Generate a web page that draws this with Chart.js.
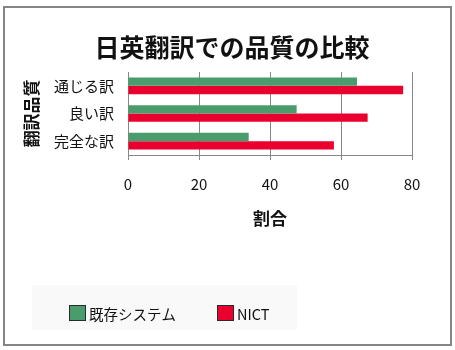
<!DOCTYPE html>
<html>
<head>
<meta charset="utf-8">
<script src="https://cdn.jsdelivr.net/npm/chart.js@4/dist/chart.umd.min.js"></script>
<style>
  html, body { margin: 0; padding: 0; background: #ffffff; }
  body { width: 455px; height: 350px; position: relative; overflow: hidden; }
  #frame {
    position: absolute; left: 3px; top: 6px; width: 449px; height: 340px;
    box-sizing: border-box; border: 2px solid #858585; background: #ffffff;
  }
  #wrap { position: absolute; left: 21px; top: 0; width: 430px; height: 350px; }
</style>
</head>
<body>
<div id="frame"></div>
<div id="wrap"><canvas id="c" width="430" height="350"></canvas></div>
<script>
// Translation quality categories (top to bottom)
const categories = ['通じる訳', '良い訳', '完全な訳'];
// Series names
const seriesNames = ['既存システム', 'NICT'];
// Percentage values per series
const existingSystem = [64.5, 47.5, 34];
const nict = [77.5, 67.5, 58];
// X axis tick range
const xTicks = [0, 20, 40, 60, 80];

const GREEN = '#4b9c6c';
const RED = '#ea002e';
const FONT = "'Noto Sans CJK JP', 'Noto Sans', sans-serif";

// Legend drawn in its own shaded panel under the plot
const panelLegend = {
  id: 'panelLegend',
  afterDraw(chart) {
    const ctx = chart.ctx;
    ctx.save();
    ctx.fillStyle = '#f9f9f9';
    ctx.fillRect(11, 285, 265, 45);
    const xs = [48, 196];
    chart.data.datasets.forEach((ds, i) => {
      const x = xs[i];
      ctx.fillStyle = ds.backgroundColor;
      ctx.fillRect(x, 305, 17, 16);
      ctx.strokeStyle = '#2a2a2a';
      ctx.lineWidth = 1;
      ctx.strokeRect(x + 0.5, 305.5, 16, 15);
      ctx.fillStyle = '#111111';
      ctx.font = '14.5px ' + FONT;
      ctx.textBaseline = 'middle';
      ctx.textAlign = 'left';
      ctx.fillText(ds.label, x + 20, 314);
    });
    ctx.restore();
  }
};

new Chart(document.getElementById('c'), {
  type: 'bar',
  data: {
    labels: categories,
    datasets: [
      { label: seriesNames[0], data: existingSystem, backgroundColor: GREEN,
        categoryPercentage: 0.6, barPercentage: 1.0 },
      { label: seriesNames[1], data: nict, backgroundColor: RED,
        categoryPercentage: 0.6, barPercentage: 1.0 }
    ]
  },
  options: {
    indexAxis: 'y',
    responsive: false,
    animation: false,
    layout: { padding: { left: 31, right: 39, top: 0, bottom: 121.6 } },
    plugins: {
      legend: { display: false },
      tooltip: { enabled: false },
      title: {
        display: true,
        text: '日英翻訳での品質の比較',
        color: '#111111',
        font: { family: FONT, size: 25, weight: 'bold', lineHeight: 1.2 },
        padding: { top: 32, bottom: 10 }
      }
    },
    scales: {
      x: {
        min: xTicks[0],
        max: xTicks[xTicks.length - 1],
        afterBuildTicks(scale) { scale.ticks = xTicks.map(v => ({ value: v })); },
        grid: { color: '#878787', lineWidth: 1, tickLength: 5, drawTicks: true },
        border: { color: '#878787', width: 1 },
        ticks: { color: '#111111', padding: 15, maxRotation: 0,
                 font: { family: FONT, size: 15, lineHeight: 1.2 } },
        title: {
          display: true, text: '割合', color: '#111111',
          font: { family: FONT, size: 17, weight: 'bold', lineHeight: 1.2 },
          padding: { top: 15, bottom: 0 }
        },
        afterFit(scale) { scale.height = 73.4; }
      },
      y: {
        grid: { display: false, drawTicks: false, tickLength: 0 },
        border: { display: true, color: '#878787', width: 1 },
        ticks: { color: '#111111', padding: 14,
                 font: { family: FONT, size: 15, lineHeight: 1.2 } },
        title: {
          display: true, text: '翻訳品質', color: '#111111',
          font: { family: FONT, size: 17, weight: 'bold', lineHeight: 1.2 },
          padding: { top: -30.2, bottom: 0 }
        },
        afterFit(scale) { scale.width = 76; }
      }
    }
  },
  plugins: [panelLegend]
});
</script>
</body>
</html>
